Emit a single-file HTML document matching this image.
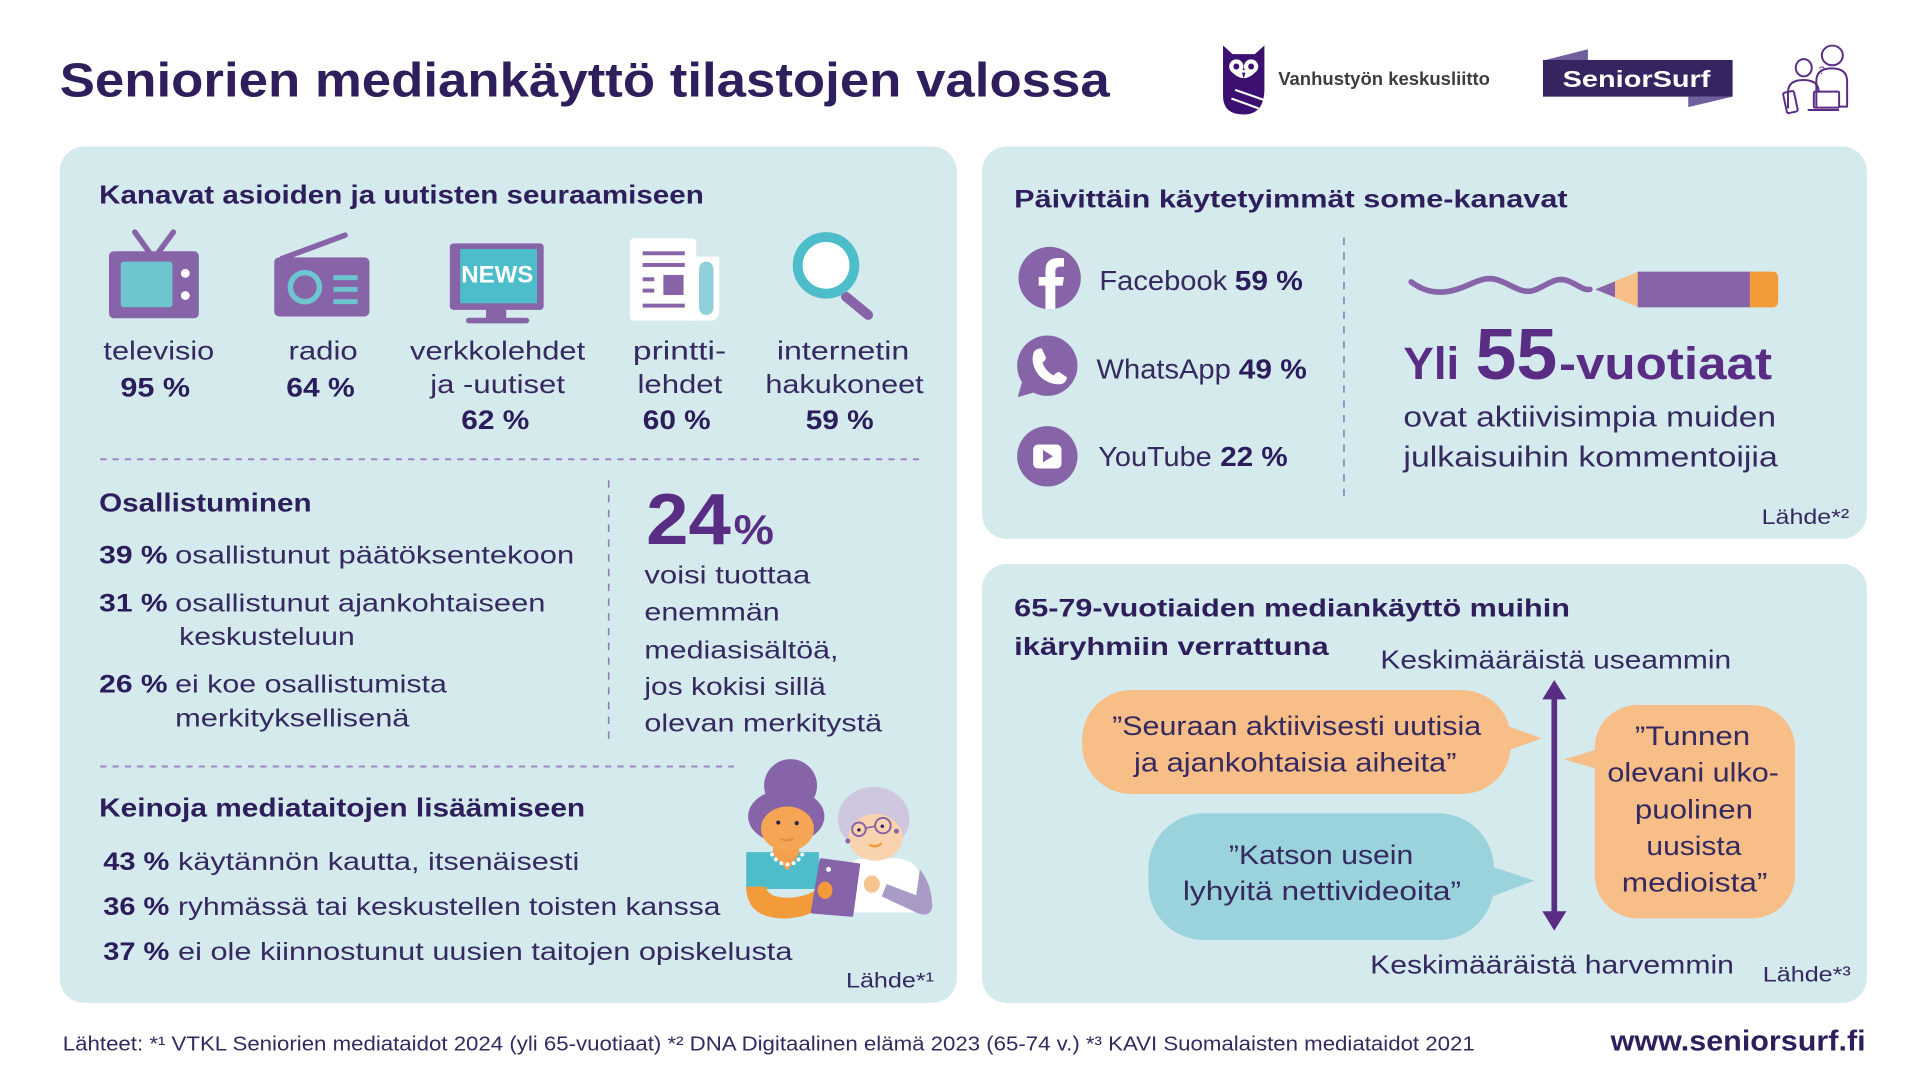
<!DOCTYPE html>
<html><head><meta charset="utf-8">
<style>
html,body{margin:0;padding:0;background:#fff;overflow:hidden;}
svg{display:block;}
text{font-family:"Liberation Sans",sans-serif;}
.h{font-weight:bold;fill:#2e1f5c;}
.r{fill:#35295f;}
.p{font-weight:bold;fill:#2b1d5b;}
.a{font-weight:bold;fill:#5a2d85;}
</style></head>
<body>
<svg width="1921" height="1081" viewBox="0 0 1560 877.9" preserveAspectRatio="none" xmlns="http://www.w3.org/2000/svg">
<rect x="0" y="0" width="1560" height="878" fill="#fff"/>

<!-- Title -->
<text class="h" x="48.5" y="78.5" font-size="39" textLength="852.7" lengthAdjust="spacingAndGlyphs">Seniorien mediankäyttö tilastojen valossa</text>

<!-- Owl logo -->
<path d="M993.2,37 L1001,44 H1019 L1026.8,37 V72 Q1026.8,93 1010,93 Q993.2,93 993.2,78 Z" fill="#3b1070"/>
<circle cx="1004" cy="54" r="5.8" fill="#fff"/>
<circle cx="1016" cy="54" r="5.8" fill="#fff"/>
<path d="M999,57 Q1010,70 1021,57 Z" fill="#fff"/>
<circle cx="1004" cy="54" r="2.4" fill="#3b1070"/>
<circle cx="1016" cy="54" r="2.4" fill="#3b1070"/>
<path d="M1008.6,59 L1011.4,59 L1010,64 Z" fill="#3b1070"/>
<line x1="1003" y1="73" x2="1026" y2="81" stroke="#fff" stroke-width="1.8"/>
<line x1="1000" y1="80" x2="1022" y2="88" stroke="#fff" stroke-width="1.8"/>
<text x="1038" y="69" font-size="15" font-weight="bold" fill="#3d3d3d" textLength="172" lengthAdjust="spacingAndGlyphs">Vanhustyön keskusliitto</text>

<!-- SeniorSurf logo -->
<polygon points="1255,48.7 1289.5,40 1289.5,48.7" fill="#6f5f9c"/>
<polygon points="1371,78.5 1407,78.5 1371,87" fill="#6f5f9c"/>
<rect x="1253" y="48.7" width="154" height="29.8" fill="#35245f"/>
<text x="1269" y="70.5" font-size="18.5" font-weight="bold" fill="#fff" textLength="120" lengthAdjust="spacingAndGlyphs">SeniorSurf</text>

<!-- people icon -->
<g fill="none" stroke="#5a2d85" stroke-width="1.6" stroke-linejoin="round">
<ellipse cx="1488" cy="45" rx="8.5" ry="8"/>
<path d="M1475,86.6 V66 Q1475,55.5 1487.5,55.5 Q1500,55.5 1500,66 V86.6 H1493"/>
<ellipse cx="1464.8" cy="55" rx="6.5" ry="7"/>
<path d="M1452,88 V75 Q1452,65 1464.5,65 Q1477,65 1477,75"/>
<rect x="1473" y="74.4" width="20.5" height="13" rx="1"/>
<path d="M1468,89.3 H1493.5"/>
<rect x="1449.5" y="74.4" width="9" height="17" rx="1.5" transform="rotate(-12 1454 83)"/>
</g>
<text x="1477" y="60" font-size="9" fill="#5a2d85">?</text>

<!-- Panels -->
<rect x="48.5" y="119" width="728.5" height="695.5" rx="20" fill="#d4eaed"/>
<rect x="797.5" y="119" width="718.5" height="318.5" rx="20" fill="#d4eaed"/>
<rect x="797.5" y="458" width="718.5" height="356.5" rx="20" fill="#d4eaed"/>

<!-- LEFT PANEL -->
<text class="h" x="80.5" y="165.1" font-size="21" textLength="491" lengthAdjust="spacingAndGlyphs">Kanavat asioiden ja uutisten seuraamiseen</text>

<!-- TV -->
<line x1="109.5" y1="188.5" x2="121" y2="204.5" stroke="#8764a8" stroke-width="4.5" stroke-linecap="round"/>
<line x1="140.8" y1="188.5" x2="129" y2="204.5" stroke="#8764a8" stroke-width="4.5" stroke-linecap="round"/>
<rect x="88.5" y="204" width="73" height="54.5" rx="4" fill="#8764a8"/>
<rect x="98" y="212.5" width="42" height="37" rx="2.5" fill="#6ec4cf"/>
<circle cx="150.5" cy="222" r="3.6" fill="#fff"/>
<circle cx="150.5" cy="240" r="3.6" fill="#fff"/>

<!-- Radio -->
<line x1="280.2" y1="191" x2="229" y2="210" stroke="#8764a8" stroke-width="4.5" stroke-linecap="round"/>
<rect x="222.7" y="209" width="77.3" height="48" rx="4" fill="#8764a8"/>
<circle cx="247.6" cy="233.2" r="11.8" fill="none" stroke="#6ec4cf" stroke-width="4.5"/>
<rect x="270.8" y="223.5" width="19.6" height="4" fill="#6ec4cf"/>
<rect x="270.8" y="233" width="19.6" height="4" fill="#6ec4cf"/>
<rect x="270.8" y="243" width="19.6" height="4" fill="#6ec4cf"/>

<!-- Monitor -->
<rect x="365.3" y="197.6" width="76.2" height="54.1" rx="3" fill="#8764a8"/>
<rect x="373.7" y="202.2" width="62.4" height="44.1" fill="#4dbdca"/>
<text x="374.6" y="229.5" font-size="19.5" font-weight="bold" fill="#fff" textLength="58.4" lengthAdjust="spacingAndGlyphs">NEWS</text>
<rect x="394.7" y="251" width="16.4" height="8" fill="#8764a8"/>
<rect x="378.4" y="258" width="51.4" height="4.6" rx="2.3" fill="#8764a8"/>

<!-- Newspaper -->
<rect x="511.6" y="193.5" width="53.8" height="66.9" rx="3" fill="#fff"/>
<path d="M560,208.4 H584.1 V252 Q584.1,260.4 575.7,260.4 H560 Z" fill="#fff"/>
<rect x="567.7" y="212.5" width="11.7" height="43.3" rx="5.8" fill="#8fd0da"/>
<rect x="521.9" y="204.1" width="34.2" height="3.2" fill="#8764a8"/>
<rect x="521.9" y="213.6" width="34.2" height="3.2" fill="#8764a8"/>
<rect x="521.9" y="225.2" width="9.4" height="3.2" fill="#8764a8"/>
<rect x="521.9" y="234.4" width="9.4" height="3.2" fill="#8764a8"/>
<rect x="538.7" y="223.3" width="16.4" height="16.3" fill="#8764a8"/>
<rect x="521.9" y="246.6" width="34.2" height="3.2" fill="#8764a8"/>

<!-- Magnifier -->
<line x1="686.9" y1="240.9" x2="705" y2="255.8" stroke="#8764a8" stroke-width="8" stroke-linecap="round"/>
<circle cx="670.8" cy="215.5" r="23" fill="#fff" stroke="#4dbdca" stroke-width="8"/>

<!-- channel labels -->
<text class="r" x="84" y="292" font-size="21" textLength="90" lengthAdjust="spacingAndGlyphs">televisio</text>
<text class="p" x="97.8" y="322.1" font-size="22" textLength="56.6" lengthAdjust="spacingAndGlyphs">95 %</text>
<text class="r" x="234.3" y="292" font-size="21" textLength="56.2" lengthAdjust="spacingAndGlyphs">radio</text>
<text class="p" x="232.5" y="322.1" font-size="22" textLength="55.6" lengthAdjust="spacingAndGlyphs">64 %</text>
<text class="r" x="333" y="292" font-size="21" textLength="142.2" lengthAdjust="spacingAndGlyphs">verkkolehdet</text>
<text class="r" x="349.4" y="319" font-size="21" textLength="109.4" lengthAdjust="spacingAndGlyphs">ja -uutiset</text>
<text class="p" x="374.6" y="348.6" font-size="22" textLength="55.2" lengthAdjust="spacingAndGlyphs">62 %</text>
<text class="r" x="514" y="292" font-size="21" textLength="75.7" lengthAdjust="spacingAndGlyphs">printti-</text>
<text class="r" x="517.7" y="319" font-size="21" textLength="68.8" lengthAdjust="spacingAndGlyphs">lehdet</text>
<text class="p" x="522" y="348.6" font-size="22" textLength="55.1" lengthAdjust="spacingAndGlyphs">60 %</text>
<text class="r" x="630.9" y="292" font-size="21" textLength="107.5" lengthAdjust="spacingAndGlyphs">internetin</text>
<text class="r" x="621.5" y="319" font-size="21" textLength="128.6" lengthAdjust="spacingAndGlyphs">hakukoneet</text>
<text class="p" x="654.3" y="348.6" font-size="22" textLength="55.1" lengthAdjust="spacingAndGlyphs">59 %</text>

<line x1="81.4" y1="373" x2="750" y2="373" stroke="#9d86c3" stroke-width="1.6" stroke-dasharray="5 5"/>

<!-- Osallistuminen -->
<text class="h" x="80.5" y="415.5" font-size="21" textLength="172.5" lengthAdjust="spacingAndGlyphs">Osallistuminen</text>
<text class="p" x="80.5" y="457.5" font-size="20.5" textLength="55.6" lengthAdjust="spacingAndGlyphs">39 %</text>
<text class="r" x="142.2" y="457.5" font-size="20.5" textLength="324.1" lengthAdjust="spacingAndGlyphs">osallistunut päätöksentekoon</text>
<text class="p" x="80.5" y="496.7" font-size="20.5" textLength="55.6" lengthAdjust="spacingAndGlyphs">31 %</text>
<text class="r" x="142.2" y="496.7" font-size="20.5" textLength="300.7" lengthAdjust="spacingAndGlyphs">osallistunut ajankohtaiseen</text>
<text class="r" x="145.5" y="523.8" font-size="20.5" textLength="142.6" lengthAdjust="spacingAndGlyphs">keskusteluun</text>
<text class="p" x="80.5" y="562.5" font-size="20.5" textLength="55.6" lengthAdjust="spacingAndGlyphs">26 %</text>
<text class="r" x="142.2" y="562.5" font-size="20.5" textLength="220.7" lengthAdjust="spacingAndGlyphs">ei koe osallistumista</text>
<text class="r" x="142.2" y="590.1" font-size="20.5" textLength="190.3" lengthAdjust="spacingAndGlyphs">merkityksellisenä</text>

<line x1="494.3" y1="390" x2="494.3" y2="602.3" stroke="#8f7bb5" stroke-width="1.3" stroke-dasharray="6 6"/>

<text class="a" x="524.7" y="441.8" font-size="59" textLength="68.8" lengthAdjust="spacingAndGlyphs">24</text>
<text class="a" x="595.8" y="441.8" font-size="34" textLength="32.7" lengthAdjust="spacingAndGlyphs">%</text>
<text class="r" x="523.3" y="473.7" font-size="20.5" textLength="134.7" lengthAdjust="spacingAndGlyphs">voisi tuottaa</text>
<text class="r" x="523.3" y="504" font-size="20.5" textLength="109.9" lengthAdjust="spacingAndGlyphs">enemmän</text>
<text class="r" x="523.3" y="534.6" font-size="20.5" textLength="157.6" lengthAdjust="spacingAndGlyphs">mediasisältöä,</text>
<text class="r" x="523.3" y="564.4" font-size="20.5" textLength="147.3" lengthAdjust="spacingAndGlyphs">jos kokisi sillä</text>
<text class="r" x="523.3" y="594.2" font-size="20.5" textLength="193.1" lengthAdjust="spacingAndGlyphs">olevan merkitystä</text>

<line x1="81.4" y1="622.5" x2="596" y2="622.5" stroke="#9d86c3" stroke-width="1.6" stroke-dasharray="5 5"/>

<!-- Keinoja -->
<text class="h" x="80.5" y="663.2" font-size="21" textLength="394.7" lengthAdjust="spacingAndGlyphs">Keinoja mediataitojen lisäämiseen</text>
<text class="p" x="83.8" y="706.5" font-size="20.5" textLength="53.7" lengthAdjust="spacingAndGlyphs">43 %</text>
<text class="r" x="144.6" y="706.5" font-size="20.5" textLength="325.9" lengthAdjust="spacingAndGlyphs">käytännön kautta, itsenäisesti</text>
<text class="p" x="83.8" y="743" font-size="20.5" textLength="53.7" lengthAdjust="spacingAndGlyphs">36 %</text>
<text class="r" x="144.6" y="743" font-size="20.5" textLength="440.4" lengthAdjust="spacingAndGlyphs">ryhmässä tai keskustellen toisten kanssa</text>
<text class="p" x="83.8" y="779.6" font-size="20.5" textLength="53.7" lengthAdjust="spacingAndGlyphs">37 %</text>
<text class="r" x="144.6" y="779.6" font-size="20.5" textLength="498.9" lengthAdjust="spacingAndGlyphs">ei ole kiinnostunut uusien taitojen opiskelusta</text>
<text class="r" x="687" y="801.8" font-size="17.5" textLength="71.5" lengthAdjust="spacingAndGlyphs">Lähde*¹</text>

<!-- Illustration: two women -->
<circle cx="642" cy="638" r="21.5" fill="#8764a8"/>
<ellipse cx="638.5" cy="663" rx="31" ry="22" fill="#8764a8"/>
<path d="M606,692 H665 V722 H606 Z" fill="#4dbdca"/>
<path d="M630,680 H649 V693 L639.5,707 L627,693 Z" fill="#f5a04f"/>
<ellipse cx="639.5" cy="673" rx="21.5" ry="18" fill="#f5a553"/>
<path d="M618,668 Q620,652 640,651 Q658,652 661,668 L661,658 Q656,644 640,644 Q622,645 618,660 Z" fill="#8764a8"/>
<circle cx="632" cy="668" r="1.7" fill="#2d1f5e"/>
<circle cx="647" cy="668.5" r="1.7" fill="#2d1f5e"/>
<path d="M634,681 Q639,684 644,681" stroke="#e58a3a" stroke-width="1.5" fill="none"/>
<g fill="#fff"><circle cx="627" cy="694" r="1.6"/><circle cx="630" cy="698" r="1.6"/><circle cx="634.5" cy="701" r="1.6"/><circle cx="639.5" cy="702" r="1.6"/><circle cx="644.5" cy="701" r="1.6"/><circle cx="648.5" cy="698" r="1.6"/><circle cx="651.5" cy="694" r="1.6"/></g>
<path d="M606,720 Q606,746 638,746 Q662,745 678,728 L671,717 Q657,729 640,729 Q623,729 622,720 Z" fill="#f39a3b"/>
<path d="M752,741 L748,712 Q744,697 725,697 H705 Q694,697 690,703 V741 Z" fill="#fff"/>
<path d="M747,706 Q757,718 757,737 Q755,745 746,742 L716,728 L720,718 L744,727 Z" fill="#a99bc6"/>
<ellipse cx="709.5" cy="665" rx="29" ry="26" fill="#cfc6e0"/>
<rect x="703" y="684" width="16" height="14" fill="#f8c48f"/>
<ellipse cx="711" cy="680" rx="22" ry="19" fill="#f8d3ad"/>
<path d="M689,672 Q692,655 710,654 Q730,654 735,670 L736,660 Q730,642 710,641 Q688,643 684,665 Z" fill="#cfc6e0"/>
<circle cx="697.5" cy="673.5" r="5.5" fill="none" stroke="#8764a8" stroke-width="1.6"/>
<circle cx="717" cy="670.5" r="6.3" fill="none" stroke="#8764a8" stroke-width="1.6"/>
<line x1="703" y1="672.5" x2="710.7" y2="671" stroke="#8764a8" stroke-width="1.4"/>
<circle cx="697.5" cy="674" r="1.4" fill="#2d1f5e"/>
<circle cx="716.5" cy="671" r="1.4" fill="#2d1f5e"/>
<path d="M706,686 Q711,689 716,685" stroke="#f39a3b" stroke-width="2" fill="none"/>
<circle cx="688.5" cy="683" r="2" fill="#8764a8"/>
<circle cx="728" cy="675" r="2" fill="#8764a8"/>
<ellipse cx="708" cy="718" rx="6.5" ry="7" fill="#f8c48f"/>
<path d="M667,698.5 L697,702.5 L691.5,743 L660,740.5 Z" fill="#8764a8" stroke="#8764a8" stroke-width="3" stroke-linejoin="round"/>
<circle cx="672.8" cy="706" r="2" fill="#fff"/>
<ellipse cx="670" cy="723" rx="6" ry="7" fill="#f39a3b"/>

<!-- RIGHT TOP PANEL -->
<text class="h" x="823.6" y="168.4" font-size="20.5" textLength="449.4" lengthAdjust="spacingAndGlyphs">Päivittäin käytetyimmät some-kanavat</text>

<!-- Facebook -->
<circle cx="852.4" cy="225.8" r="25.3" fill="#8764a8"/>
<path d="M849,251 V232 H843.5 V225 H849 V219.5 Q849,209.5 859.5,209.5 H864 V216.5 H861 Q857,216.5 857,220.5 V225 H864 L863,232 H857 V251 Z" fill="#fff"/>
<text class="r" x="892.8" y="235.5" font-size="22.5" textLength="103.8" lengthAdjust="spacingAndGlyphs">Facebook</text>
<text class="p" x="1002.7" y="235.5" font-size="22.5" textLength="55.3" lengthAdjust="spacingAndGlyphs">59 %</text>

<!-- WhatsApp -->
<circle cx="850.5" cy="297" r="24.5" fill="#8764a8"/>
<polygon points="830,310 826.5,322.5 842,318" fill="#8764a8"/>
<path d="M839.5,286 Q842,282.5 846,283 L849.5,290.5 Q849,293 846.5,294.5 Q849,301.5 855.5,305 Q857.5,302.5 860,302 L866.5,306.5 Q866,310.5 862,312 Q851,313 843,304 Q836.5,295 839.5,286 Z" fill="#fff"/>
<text class="r" x="890.5" y="307.2" font-size="22.5" textLength="109" lengthAdjust="spacingAndGlyphs">WhatsApp</text>
<text class="p" x="1006" y="307.2" font-size="22.5" textLength="55.2" lengthAdjust="spacingAndGlyphs">49 %</text>

<!-- YouTube -->
<circle cx="850.5" cy="370.6" r="24.5" fill="#8764a8"/>
<rect x="839" y="361" width="23" height="19.5" rx="4" fill="#fff"/>
<polygon points="847,365.5 847,375.5 855,370.5" fill="#8764a8"/>
<text class="r" x="891.9" y="378.4" font-size="22.5" textLength="92.1" lengthAdjust="spacingAndGlyphs">YouTube</text>
<text class="p" x="991" y="378.4" font-size="22.5" textLength="54.7" lengthAdjust="spacingAndGlyphs">22 %</text>

<line x1="1091.4" y1="193" x2="1091.4" y2="406" stroke="#8f7bb5" stroke-width="1.3" stroke-dasharray="6 6"/>

<!-- pencil -->
<path d="M1146,229 C1158,238 1170,239 1183,235 S1204,224 1215,227 S1235,239 1245,236 S1263,224 1273,228 S1286,236 1291,235" fill="none" stroke="#8764a8" stroke-width="4.6" stroke-linecap="round"/>
<polygon points="1295.5,235 1330.5,220.6 1330.5,249.6" fill="#f7be87"/>
<polygon points="1295.5,235 1311.5,228.5 1311.5,241.5" fill="#8764a8"/>
<rect x="1330" y="220.6" width="92" height="29" fill="#8764a8"/>
<path d="M1421,220.6 H1439 Q1444,220.6 1444,226 V244 Q1444,249.6 1439,249.6 H1421 Z" fill="#f39a3b"/>

<text class="a" x="1139.7" y="308" font-size="37" textLength="45.3" lengthAdjust="spacingAndGlyphs">Yli</text>
<text class="a" x="1198.2" y="308" font-size="59" textLength="66.4" lengthAdjust="spacingAndGlyphs">55</text>
<text class="a" x="1266" y="308" font-size="37" textLength="173" lengthAdjust="spacingAndGlyphs">-vuotiaat</text>
<text class="r" x="1139.7" y="346.5" font-size="23" textLength="302.6" lengthAdjust="spacingAndGlyphs">ovat aktiivisimpia muiden</text>
<text class="r" x="1139.7" y="379" font-size="23" textLength="304" lengthAdjust="spacingAndGlyphs">julkaisuihin kommentoijia</text>
<text class="r" x="1430.6" y="425.5" font-size="17.5" textLength="71.1" lengthAdjust="spacingAndGlyphs">Lähde*²</text>

<!-- RIGHT BOTTOM PANEL -->
<text class="h" x="823.6" y="500.8" font-size="20.5" textLength="451.3" lengthAdjust="spacingAndGlyphs">65-79-vuotiaiden mediankäyttö muihin</text>
<text class="h" x="823.6" y="531.9" font-size="20.5" textLength="255.4" lengthAdjust="spacingAndGlyphs">ikäryhmiin verrattuna</text>
<text class="r" x="1121" y="542.8" font-size="21" textLength="284.8" lengthAdjust="spacingAndGlyphs">Keskimääräistä useammin</text>
<text class="r" x="1112.6" y="790.4" font-size="21" textLength="295.5" lengthAdjust="spacingAndGlyphs">Keskimääräistä harvemmin</text>
<text class="r" x="1431.5" y="797.2" font-size="17.5" textLength="71.5" lengthAdjust="spacingAndGlyphs">Lähde*³</text>

<!-- arrow -->
<line x1="1262.2" y1="562" x2="1262.2" y2="746" stroke="#5a2d85" stroke-width="4.6"/>
<polygon points="1262.2,552.2 1252.5,568 1272,568" fill="#5a2d85"/>
<polygon points="1262.2,755.8 1252.5,740 1272,740" fill="#5a2d85"/>

<!-- bubbles -->
<rect x="878.8" y="560.4" width="348.2" height="84.4" rx="40" fill="#f7be87"/>
<polygon points="1222,588.8 1252,599.6 1222,610.4" fill="#f7be87"/>
<text class="r" x="903.1" y="596.9" font-size="21.5" textLength="299.8" lengthAdjust="spacingAndGlyphs">”Seuraan aktiivisesti uutisia</text>
<text class="r" x="920.9" y="626.7" font-size="21.5" textLength="261.9" lengthAdjust="spacingAndGlyphs">ja ajankohtaisia aiheita”</text>

<rect x="932.6" y="660.5" width="280.6" height="102.9" rx="45" fill="#9ad3db"/>
<polygon points="1208,702.5 1245.9,715.2 1208,729.5" fill="#9ad3db"/>
<text class="r" x="998" y="701.7" font-size="21.5" textLength="149.7" lengthAdjust="spacingAndGlyphs">”Katson usein</text>
<text class="r" x="960.6" y="730.9" font-size="21.5" textLength="225.9" lengthAdjust="spacingAndGlyphs">lyhyitä nettivideoita”</text>

<rect x="1295" y="572.5" width="162.7" height="173.3" rx="35" fill="#f7be87"/>
<polygon points="1300,607.7 1270.2,616.7 1300,625.3" fill="#f7be87"/>
<text class="r" x="1327.7" y="605" font-size="21.5" textLength="93.5" lengthAdjust="spacingAndGlyphs">”Tunnen</text>
<text class="r" x="1305.3" y="634.8" font-size="21.5" textLength="139.3" lengthAdjust="spacingAndGlyphs">olevani ulko-</text>
<text class="r" x="1327.7" y="664.6" font-size="21.5" textLength="95.9" lengthAdjust="spacingAndGlyphs">puolinen</text>
<text class="r" x="1337" y="694.3" font-size="21.5" textLength="77.2" lengthAdjust="spacingAndGlyphs">uusista</text>
<text class="r" x="1317" y="724.1" font-size="21.5" textLength="118.3" lengthAdjust="spacingAndGlyphs">medioista”</text>

<!-- Footer -->
<text class="r" x="51" y="853" font-size="16.5" textLength="1146.6" lengthAdjust="spacingAndGlyphs">Lähteet: *¹ VTKL Seniorien mediataidot 2024 (yli 65-vuotiaat) *² DNA Digitaalinen elämä 2023 (65-74 v.) *³ KAVI Suomalaisten mediataidot 2021</text>
<text class="h" x="1308" y="853" font-size="23" textLength="207" lengthAdjust="spacingAndGlyphs">www.seniorsurf.fi</text>
</svg>
</body></html>
